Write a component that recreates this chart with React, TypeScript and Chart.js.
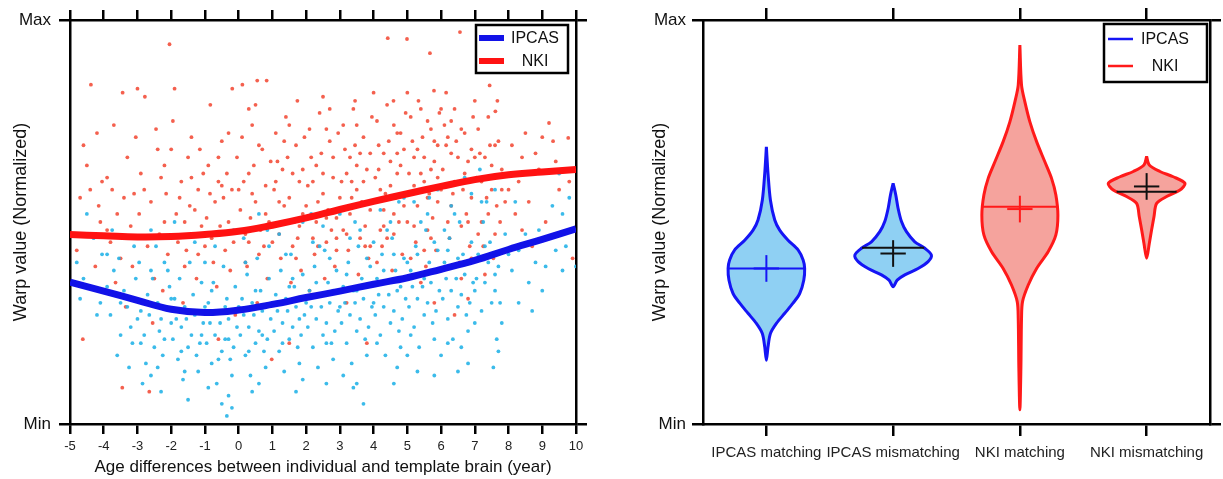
import React, { useEffect, useRef } from 'react';
import { Chart, registerables } from 'chart.js';
Chart.register(...registerables);

const FONT = "'Liberation Sans', Arial, Helvetica, sans-serif";

// ---------------- Left panel data ----------------
const AGE_TICKS = [-5, -4, -3, -2, -1, 0, 1, 2, 3, 4, 5, 6, 7, 8, 9, 10];
const Y_TICK_LABELS = ['Min', 'Max'];
const X_TITLE = 'Age differences between individual and template brain (year)';
const Y_TITLE = 'Warp value (Normalized)';
const GROUPS = ['IPCAS', 'NKI'];

const FIT_X = [-5, -4, -3, -2, -1, 0, 1, 2, 3, 4, 5, 6, 7, 8, 9, 10];
const IPCAS_FIT = [0.351, 0.329, 0.306, 0.284, 0.276, 0.282, 0.296, 0.313, 0.329, 0.346, 0.362, 0.383, 0.405, 0.432, 0.457, 0.483];
const NKI_FIT = [0.469, 0.466, 0.463, 0.464, 0.469, 0.477, 0.492, 0.51, 0.531, 0.551, 0.57, 0.588, 0.605, 0.617, 0.624, 0.63];

const NKI_POINTS: number[][] = [
  [-4.62,0.21],[-4.38,0.84],[-4.7,0.56],[-4.5,0.64],[-4.2,0.72],[-4.1,0.5],[-4.4,0.47],[-4.05,0.6],[-4.8,0.43],[-4.25,0.39],[-4.6,0.69],[-4.15,0.54],
  [-3.9,0.61],[-3.7,0.74],[-3.44,0.82],[-3.6,0.52],[-3.3,0.66],[-3.1,0.57],[-3.8,0.45],[-3.5,0.41],[-3.2,0.49],[-3.65,0.35],[-3.35,0.29],[-3.05,0.71],[-3.0,0.83],[-3.45,0.09],[-3.15,0.39],[-3.75,0.58],
  [-2.78,0.81],[-2.9,0.62],[-2.6,0.55],[-2.4,0.68],[-2.2,0.5],[-2.05,0.94],[-2.7,0.44],[-2.5,0.36],[-2.3,0.61],[-2.85,0.3],[-2.65,0.08],[-2.1,0.42],[-2.45,0.73],[-2.15,0.57],[-2.95,0.52],[-2.35,0.47],[-2.55,0.25],[-2.25,0.33],
  [-1.9,0.83],[-1.95,0.75],[-1.7,0.6],[-1.5,0.66],[-1.3,0.53],[-1.1,0.49],[-1.8,0.45],[-1.6,0.39],[-1.4,0.71],[-1.2,0.58],[-1.05,0.62],[-1.85,0.52],[-1.55,0.43],[-1.25,0.36],[-1.65,0.3],[-1.35,0.47],[-1.15,0.68],[-1.75,0.56],[-1.45,0.54],[-1.0,0.44],
  [-0.84,0.79],[-0.9,0.64],[-0.7,0.55],[-0.5,0.7],[-0.3,0.5],[-0.19,0.83],[-0.8,0.46],[-0.6,0.6],[-0.4,0.43],[-0.2,0.58],[-0.95,0.51],[-0.75,0.4],[-0.55,0.49],[-0.35,0.62],[-0.15,0.45],[-0.65,0.34],[-0.45,0.56],[-0.25,0.38],[-0.05,0.66],[-0.85,0.57],[-0.1,0.27],[-0.6,0.21],
  [0.11,0.84],[0.55,0.85],[0.83,0.85],[0.1,0.71],[0.3,0.62],[0.5,0.55],[0.7,0.68],[0.9,0.5],[0.2,0.47],[0.4,0.74],[0.6,0.42],[0.8,0.59],[0.05,0.53],[0.25,0.39],[0.45,0.64],[0.65,0.48],[0.85,0.36],[0.15,0.6],[0.35,0.51],[0.75,0.44],[0.95,0.65],[0.55,0.3],[0.98,0.16],[0.3,0.78],
  [1.74,0.8],[1.1,0.72],[1.3,0.63],[1.5,0.56],[1.7,0.69],[1.9,0.52],[1.2,0.47],[1.4,0.76],[1.6,0.44],[1.8,0.6],[1.05,0.58],[1.25,0.41],[1.45,0.66],[1.65,0.5],[1.85,0.38],[1.15,0.65],[1.35,0.54],[1.55,0.35],[1.75,0.46],[1.95,0.71],[1.5,0.2],[1.9,0.63],
  [2.1,0.73],[2.3,0.64],[2.5,0.57],[2.7,0.7],[2.9,0.51],[2.2,0.46],[2.4,0.77],[2.6,0.45],[2.8,0.61],[2.05,0.59],[2.25,0.42],[2.45,0.67],[2.65,0.53],[2.85,0.39],[2.15,0.66],[2.35,0.55],[2.55,0.36],[2.75,0.48],[2.95,0.72],[2.5,0.62],[2.3,0.5],[2.7,0.78],[2.1,0.33],[2.9,0.43],
  [3.45,0.8],[3.1,0.74],[3.3,0.66],[3.5,0.58],[3.7,0.71],[3.9,0.53],[3.2,0.47],[3.4,0.78],[3.6,0.46],[3.8,0.63],[3.05,0.6],[3.25,0.43],[3.45,0.69],[3.65,0.55],[3.85,0.41],[3.15,0.68],[3.35,0.56],[3.55,0.37],[3.75,0.49],[3.95,0.76],[3.5,0.64],[3.3,0.52],[3.7,0.6],[3.9,0.67],[3.2,0.3],[3.8,0.2],
  [4.42,0.955],[4.59,0.8],[4.1,0.75],[4.3,0.67],[4.5,0.59],[4.7,0.72],[4.9,0.54],[4.2,0.48],[4.4,0.79],[4.6,0.47],[4.8,0.64],[4.05,0.61],[4.25,0.44],[4.45,0.7],[4.65,0.56],[4.85,0.42],[4.15,0.69],[4.35,0.57],[4.55,0.38],[4.75,0.5],[4.95,0.77],[4.5,0.65],[4.3,0.53],[4.7,0.62],[4.9,0.68],[4.1,0.4],[4.6,0.74],[4.2,0.58],
  [4.99,0.953],[5.33,0.8],[5.67,0.918],[5.79,0.825],[5.1,0.76],[5.3,0.68],[5.5,0.6],[5.7,0.73],[5.9,0.55],[5.2,0.49],[5.4,0.78],[5.6,0.48],[5.8,0.65],[5.05,0.62],[5.25,0.45],[5.45,0.71],[5.65,0.57],[5.85,0.43],[5.15,0.7],[5.35,0.58],[5.55,0.39],[5.75,0.51],[5.95,0.77],[5.5,0.66],[5.3,0.54],[5.7,0.63],[5.9,0.69],[5.1,0.41],[5.6,0.75],[5.2,0.59],[5.4,0.35],[5.8,0.3],
  [6.56,0.97],[6.15,0.82],[6.1,0.74],[6.3,0.67],[6.5,0.6],[6.7,0.72],[6.9,0.56],[6.2,0.5],[6.4,0.78],[6.6,0.49],[6.8,0.65],[6.05,0.63],[6.25,0.46],[6.45,0.7],[6.65,0.58],[6.85,0.44],[6.15,0.69],[6.35,0.57],[6.55,0.4],[6.75,0.52],[6.95,0.76],[6.5,0.66],[6.3,0.54],[6.7,0.62],[6.9,0.68],[6.6,0.36],[6.4,0.27],[6.8,0.31],
  [7.44,0.838],[7.67,0.8],[7.61,0.774],[7.1,0.73],[7.3,0.66],[7.5,0.58],[7.7,0.7],[7.9,0.55],[7.2,0.5],[7.4,0.76],[7.6,0.47],[7.8,0.63],[7.05,0.61],[7.25,0.44],[7.45,0.69],[7.65,0.54],[7.15,0.67],[7.35,0.56],[7.55,0.41],[7.75,0.5],[7.3,0.37],[7.5,0.64],
  [9.2,0.745],[9.77,0.708],[9.32,0.7],[8.1,0.69],[8.3,0.6],[8.6,0.55],[8.9,0.63],[9.1,0.5],[8.4,0.48],[8.8,0.67],[9.5,0.58],[9.8,0.6],[8.2,0.52],[9.0,0.71],[9.6,0.47],[8.5,0.72],[9.9,0.41],[8.7,0.44],
  [-2.8,0.58],[-2.2,0.64],[-1.6,0.5],[-1.2,0.42],[-0.6,0.66],[-0.3,0.72],[0.0,0.58],[0.2,0.4],[0.4,0.57],[0.6,0.69],[0.8,0.52],[1.0,0.45],[1.2,0.55],[1.35,0.7],[1.6,0.62],[1.8,0.49],[2.0,0.54],[2.2,0.6],[2.35,0.44],[2.6,0.51],
  [2.8,0.66],[3.0,0.56],[3.1,0.48],[3.35,0.6],[3.6,0.67],[3.75,0.44],[4.0,0.55],[4.15,0.63],[4.4,0.46],[4.6,0.52],[4.8,0.72],[5.0,0.5],[5.2,0.66],[5.4,0.62],[5.6,0.56],[5.8,0.7],[6.0,0.58],[6.2,0.71],[6.4,0.6],[6.6,0.73],
  [6.8,0.5],[7.0,0.66],[7.2,0.6],[7.4,0.52],[7.6,0.69],[7.8,0.58],[0.5,0.79],[1.5,0.74],[2.5,0.81],[3.5,0.74],[4.0,0.82],[5.0,0.82],[6.0,0.78],[7.0,0.8],[3.2,0.62],[4.7,0.67],[5.9,0.61],[6.3,0.75],[2.6,0.73],[1.1,0.6],
  [-0.5,0.59],[-1.4,0.61],[-2.0,0.68],[-3.4,0.56],[-3.9,0.48],[-4.4,0.58],[0.3,0.45],[1.7,0.41],[2.9,0.46],[4.3,0.49],[5.7,0.46],[7.1,0.47],[8.0,0.58],[8.4,0.66],[9.4,0.65],[6.9,0.41],[5.5,0.43],[3.9,0.44],
];

const IPCAS_POINTS: number[][] = [
  [-4.8,0.4],[-4.6,0.36],[-4.3,0.46],[-4.1,0.3],[-4.5,0.52],[-4.2,0.27],[-4.7,0.31],[-4.05,0.42],
  [-3.9,0.34],[-3.7,0.38],[-3.5,0.22],[-3.3,0.29],[-3.1,0.44],[-3.8,0.27],[-3.6,0.17],[-3.4,0.33],[-3.2,0.24],[-3.05,0.36],[-3.75,0.48],[-3.25,0.14],[-3.55,0.41],[-3.15,0.2],
  [-2.9,0.28],[-2.7,0.32],[-2.5,0.19],[-2.3,0.26],[-2.1,0.38],[-2.8,0.22],[-2.6,0.12],[-2.4,0.3],[-2.2,0.21],[-2.05,0.34],[-2.95,0.4],[-2.75,0.15],[-2.55,0.36],[-2.35,0.23],[-2.15,0.29],[-2.85,0.1],[-2.45,0.44],[-2.25,0.17],[-2.65,0.27],[-2.0,0.25],[-2.6,0.48],
  [-1.9,0.31],[-1.7,0.24],[-1.5,0.19],[-1.3,0.27],[-1.1,0.35],[-1.8,0.16],[-1.6,0.29],[-1.4,0.22],[-1.2,0.13],[-1.05,0.25],[-1.95,0.21],[-1.75,0.36],[-1.55,0.26],[-1.35,0.32],[-1.15,0.2],[-1.85,0.26],[-1.45,0.4],[-1.25,0.17],[-1.65,0.11],[-1.0,0.29],[-1.5,0.06],[-1.3,0.45],[-1.9,0.5],
  [-0.9,0.3],[-0.7,0.22],[-0.5,0.18],[-0.3,0.26],[-0.1,0.34],[-0.8,0.15],[-0.6,0.28],[-0.4,0.21],[-0.2,0.12],[-0.05,0.24],[-0.95,0.2],[-0.75,0.35],[-0.55,0.25],[-0.35,0.31],[-0.15,0.19],[-0.85,0.25],[-0.45,0.39],[-0.25,0.16],[-0.65,0.1],[-0.35,0.02],[-0.5,0.05],[-0.3,0.07],[-0.7,0.44],[-0.15,0.48],[-0.4,0.29],
  [0.1,0.31],[0.3,0.24],[0.5,0.2],[0.7,0.28],[0.9,0.36],[0.2,0.17],[0.4,0.3],[0.6,0.23],[0.8,0.14],[0.95,0.26],[0.05,0.22],[0.25,0.37],[0.45,0.27],[0.65,0.33],[0.85,0.21],[0.15,0.27],[0.55,0.41],[0.75,0.18],[0.35,0.12],[0.15,0.46],[0.6,0.52],[0.9,0.44],[0.4,0.08],
  [1.1,0.32],[1.3,0.25],[1.5,0.21],[1.7,0.29],[1.9,0.37],[1.2,0.18],[1.4,0.31],[1.6,0.24],[1.8,0.15],[1.95,0.27],[1.05,0.23],[1.25,0.38],[1.45,0.28],[1.65,0.34],[1.85,0.22],[1.15,0.28],[1.55,0.42],[1.75,0.19],[1.35,0.13],[1.7,0.08],[1.2,0.47],[1.9,0.5],[1.5,0.34],
  [2.1,0.33],[2.3,0.26],[2.5,0.22],[2.7,0.3],[2.9,0.38],[2.2,0.19],[2.4,0.32],[2.6,0.25],[2.8,0.16],[2.95,0.28],[2.05,0.24],[2.25,0.39],[2.45,0.29],[2.65,0.35],[2.85,0.23],[2.15,0.29],[2.55,0.43],[2.75,0.2],[2.35,0.14],[2.5,0.49],[2.9,0.53],[2.2,0.45],[2.7,0.41],
  [3.1,0.34],[3.3,0.27],[3.5,0.23],[3.7,0.31],[3.9,0.39],[3.2,0.2],[3.4,0.33],[3.6,0.26],[3.8,0.17],[3.95,0.29],[3.05,0.25],[3.25,0.4],[3.45,0.3],[3.65,0.36],[3.85,0.24],[3.15,0.3],[3.55,0.44],[3.75,0.21],[3.35,0.15],[3.5,0.1],[3.4,0.09],[3.7,0.05],[3.6,0.48],[3.0,0.52],[3.85,0.55],
  [4.1,0.36],[4.3,0.29],[4.5,0.25],[4.7,0.33],[4.9,0.41],[4.2,0.22],[4.4,0.35],[4.6,0.28],[4.8,0.19],[4.95,0.31],[4.05,0.27],[4.25,0.42],[4.45,0.32],[4.65,0.38],[4.85,0.26],[4.15,0.32],[4.55,0.46],[4.75,0.23],[4.35,0.17],[4.5,0.5],[4.9,0.56],[4.2,0.53],[4.7,0.14],[4.0,0.45],
  [5.1,0.38],[5.3,0.31],[5.5,0.27],[5.7,0.35],[5.9,0.43],[5.2,0.24],[5.4,0.37],[5.6,0.3],[5.8,0.21],[5.95,0.33],[5.05,0.29],[5.25,0.44],[5.45,0.34],[5.65,0.4],[5.85,0.28],[5.15,0.34],[5.55,0.48],[5.75,0.25],[5.35,0.19],[5.0,0.17],[5.3,0.13],[5.6,0.52],[5.9,0.58],[5.2,0.55],[5.8,0.12],
  [6.1,0.4],[6.3,0.33],[6.5,0.29],[6.7,0.37],[6.9,0.45],[6.2,0.26],[6.4,0.39],[6.6,0.32],[6.8,0.23],[6.95,0.35],[6.05,0.31],[6.25,0.46],[6.45,0.36],[6.65,0.42],[6.85,0.3],[6.15,0.36],[6.55,0.5],[6.75,0.27],[6.35,0.21],[6.6,0.19],[6.8,0.15],[6.5,0.13],[6.9,0.57],[6.3,0.54],[6.7,0.61],[6.0,0.17],
  [7.1,0.42],[7.3,0.35],[7.5,0.3],[7.7,0.39],[7.9,0.47],[7.2,0.28],[7.4,0.4],[7.6,0.33],[7.8,0.25],[7.05,0.36],[7.25,0.5],[7.45,0.45],[7.65,0.21],[7.55,0.14],[7.7,0.18],[7.35,0.55],[7.6,0.58],[7.15,0.63],[7.75,0.3],
  [8.1,0.38],[8.3,0.43],[8.3,0.3],[8.6,0.35],[8.9,0.48],[9.0,0.33],[9.1,0.39],[9.3,0.54],[9.4,0.43],[9.6,0.52],[9.8,0.56],[9.9,0.48],[10.0,0.39],[8.7,0.28],[9.5,0.62],[8.2,0.55],[9.7,0.44],[8.5,0.47],
  [-2.9,0.2],[-2.4,0.14],[-2.0,0.31],[-1.7,0.18],[-1.4,0.28],[-1.1,0.22],[-0.8,0.33],[-0.6,0.16],[-0.3,0.21],[0.0,0.29],[0.3,0.18],[0.5,0.33],[0.7,0.22],[1.0,0.3],[1.3,0.2],[1.6,0.36],[1.8,0.26],[2.0,0.3],[2.3,0.35],[2.6,0.2],
  [2.8,0.33],[3.0,0.29],[3.2,0.37],[3.5,0.33],[3.8,0.41],[4.0,0.3],[4.3,0.38],[4.6,0.42],[4.8,0.34],[5.0,0.4],[5.3,0.42],[5.5,0.36],[5.8,0.45],[6.0,0.38],[6.2,0.43],[6.5,0.41],[6.8,0.4],[7.0,0.33],[7.3,0.44],[7.6,0.37],
  [-3.5,0.3],[-3.0,0.26],[-2.2,0.4],[-1.0,0.4],[0.2,0.4],[1.4,0.42],[2.4,0.44],[3.3,0.46],[4.4,0.48],[5.4,0.5],[6.4,0.52],[7.2,0.55],[-1.6,0.13],[-0.9,0.09],[0.6,0.1],[1.9,0.11],[3.1,0.12],[4.1,0.2],[5.1,0.22],[6.2,0.2],
  [-2.3,0.08],[-0.2,0.04],[2.6,0.1],[4.6,0.1],[7.0,0.25],[8.0,0.42],[8.8,0.4],[9.6,0.38],[9.2,0.46],[-4.4,0.34],[-3.9,0.42],[-2.6,0.38],[0.85,0.48],[2.15,0.52],[3.45,0.5],[4.75,0.55],[5.65,0.56],[6.1,0.48],
];

// ---------------- Right panel data ----------------
const VIOLIN_LABELS = ['IPCAS matching', 'IPCAS mismatching', 'NKI matching', 'NKI mismatching'];
const VIOLIN_POS = [1, 2, 3, 4];
const VIOLIN_GROUP = [0, 0, 1, 1];
// density outline: value (top to bottom) and half width (category units)
const V1_Y = [0.686, 0.62, 0.554, 0.505, 0.48, 0.455, 0.431, 0.406, 0.385, 0.356, 0.323, 0.299, 0.274, 0.249, 0.224, 0.191, 0.158];
const V1_W = [0, 0.013, 0.032, 0.066, 0.105, 0.171, 0.25, 0.29, 0.302, 0.295, 0.263, 0.21, 0.145, 0.079, 0.032, 0.013, 0];
const V2_Y = [0.596, 0.567, 0.534, 0.501, 0.476, 0.451, 0.435, 0.418, 0.402, 0.385, 0.369, 0.356, 0.34];
const V2_W = [0, 0.021, 0.039, 0.066, 0.105, 0.171, 0.25, 0.302, 0.276, 0.197, 0.092, 0.032, 0];
const V3_Y = [0.938, 0.839, 0.798, 0.748, 0.699, 0.649, 0.608, 0.567, 0.517, 0.468, 0.427, 0.385, 0.344, 0.303, 0.262, 0.138, 0.035];
const V3_W = [0, 0.013, 0.039, 0.079, 0.132, 0.197, 0.25, 0.284, 0.3, 0.284, 0.224, 0.132, 0.066, 0.021, 0.013, 0.008, 0];
const V4_Y = [0.662, 0.641, 0.625, 0.612, 0.596, 0.579, 0.563, 0.546, 0.513, 0.48, 0.447, 0.41];
const V4_W = [0, 0.021, 0.105, 0.21, 0.302, 0.263, 0.158, 0.079, 0.058, 0.039, 0.021, 0];
const VIOLIN_MEDIANS = [0.385, 0.436, 0.538, 0.575];
const VIOLIN_MEANS = [0.385, 0.422, 0.532, 0.588];

// ---------------- styles ----------------
const SCATTER_COLORS = ['rgba(38,180,232,0.9)', 'rgba(242,74,54,0.88)'];
const FIT_COLORS = ['#1212e8', '#ff1212'];
const V_STROKE = ['#1515f5', '#ff1a1a'];
const V_FILL = ['#8fd0f3', '#f5a39d'];
const V_MARK = ['#1515f5', '#111111', '#ff1a1a', '#111111'];
const CROSS_HALF_W = 0.1;
const CROSS_HALF_H = 0.033;

const boxLegend = {
  id: 'boxLegend',
  afterDraw(chart: any, _args: any, o: any) {
    if (!o || !o.items) return;
    const { ctx, chartArea } = chart;
    const x = chartArea.right - o.right - o.width;
    const y = chartArea.top + o.top;
    ctx.save();
    ctx.fillStyle = '#ffffff';
    ctx.fillRect(x, y, o.width, o.height);
    ctx.lineWidth = 2.5;
    ctx.strokeStyle = '#000';
    ctx.strokeRect(x, y, o.width, o.height);
    o.items.forEach((it: any, i: number) => {
      const cy = y + o.firstRow + i * o.rowGap;
      ctx.strokeStyle = it.color;
      ctx.lineWidth = o.lineWidth;
      ctx.lineCap = 'butt';
      ctx.beginPath();
      ctx.moveTo(x + o.lineX0, cy);
      ctx.lineTo(x + o.lineX1, cy);
      ctx.stroke();
      ctx.fillStyle = '#111';
      ctx.font = `16px ${FONT}`;
      ctx.textAlign = 'center';
      ctx.textBaseline = 'middle';
      ctx.fillText(it.label, x + o.textCx, cy + 1);
    });
    ctx.restore();
  },
};

const axisGrid = (len: number) => ({
  display: true,
  drawOnChartArea: false,
  drawTicks: true,
  tickLength: len,
  color: '#000',
  lineWidth: 2.5,
});
const axisBorder = { display: true, color: '#000', width: 2.5 };

function yAxes(width: number, rightWidth: number, titlePad: number, labelPad: number) {
  const yTicks = (s: any) => { s.ticks = [{ value: 0 }, { value: 1 }]; };
  return {
    y: {
      type: 'linear', position: 'left', min: 0, max: 1, z: 1,
      afterBuildTicks: yTicks,
      ticks: {
        callback: (v: number) => (v === 0 ? Y_TICK_LABELS[0] : Y_TICK_LABELS[1]),
        font: { size: 17, family: FONT }, color: '#111', padding: labelPad,
      },
      grid: axisGrid(11), border: axisBorder,
      title: { display: true, text: Y_TITLE, font: { size: 18, family: FONT }, color: '#111', padding: { top: titlePad, bottom: 0 } },
      afterFit: (s: any) => { s.width = width; },
    },
    yRight: {
      type: 'linear', position: 'right', min: 0, max: 1, z: 1,
      afterBuildTicks: yTicks,
      ticks: { display: false },
      grid: axisGrid(11), border: axisBorder,
      afterFit: (s: any) => { s.width = rightWidth; },
    },
  };
}

function widthAt(ys: number[], ws: number[], y: number) {
  for (let i = 0; i < ys.length - 1; i++) {
    if (y <= ys[i] && y >= ys[i + 1]) {
      const t = (ys[i] - y) / (ys[i] - ys[i + 1]);
      return ws[i] + t * (ws[i + 1] - ws[i]);
    }
  }
  return 0;
}

function LeftChart() {
  const ref = useRef<HTMLCanvasElement>(null);
  useEffect(() => {
    if (!ref.current) return;
    const xTicks = (s: any) => { s.ticks = AGE_TICKS.map((v) => ({ value: v })); };
    const chart = new Chart(ref.current, {
      type: 'scatter',
      data: {
        datasets: [
          {
            label: GROUPS[0], data: FIT_X.map((x, i) => ({ x, y: IPCAS_FIT[i] })),
            showLine: true, borderColor: FIT_COLORS[0], borderWidth: 7, pointRadius: 0, tension: 0.4, clip: 0, order: 0,
            xAxisID: 'x', yAxisID: 'y',
          },
          {
            label: GROUPS[1], data: FIT_X.map((x, i) => ({ x, y: NKI_FIT[i] })),
            showLine: true, borderColor: FIT_COLORS[1], borderWidth: 7, pointRadius: 0, tension: 0.4, clip: 0, order: 1,
            xAxisID: 'x', yAxisID: 'y',
          },
          {
            label: GROUPS[0] + ' subjects', data: IPCAS_POINTS.map(([x, y]) => ({ x, y })),
            backgroundColor: SCATTER_COLORS[0], borderWidth: 0, pointRadius: 1.9, order: 2,
            xAxisID: 'x', yAxisID: 'y',
          },
          {
            label: GROUPS[1] + ' subjects', data: NKI_POINTS.map(([x, y]) => ({ x, y })),
            backgroundColor: SCATTER_COLORS[1], borderWidth: 0, pointRadius: 1.9, order: 3,
            xAxisID: 'x', yAxisID: 'y',
          },
        ],
      },
      options: {
        animation: false, responsive: false,
        layout: { padding: 0 },
        events: [],
        plugins: {
          legend: { display: false }, tooltip: { enabled: false },
          boxLegend: {
            items: GROUPS.map((g, i) => ({ label: g, color: FIT_COLORS[i] })),
            right: 8, top: 5, width: 92, height: 48, firstRow: 13, rowGap: 23,
            lineX0: 3, lineX1: 28, lineWidth: 6, textCx: 59,
          },
        } as any,
        scales: {
          x: {
            type: 'linear', position: 'bottom', min: -5, max: 10, z: 1,
            afterBuildTicks: xTicks,
            ticks: { font: { size: 13, family: FONT }, color: '#222', padding: 5, maxRotation: 0, autoSkip: false },
            grid: axisGrid(10), border: axisBorder,
            title: { display: true, text: X_TITLE, font: { size: 17, family: FONT }, color: '#111', padding: { top: 0, bottom: 1 } },
            afterFit: (s: any) => { s.height = 55; },
          },
          xTop: {
            type: 'linear', position: 'top', min: -5, max: 10, z: 1,
            afterBuildTicks: xTicks,
            ticks: { display: false },
            grid: axisGrid(10), border: axisBorder,
            afterFit: (s: any) => { s.height = 20; },
          },
          ...yAxes(70, 24, 10, 8),
        } as any,
      },
      plugins: [boxLegend],
    } as any);
    return () => chart.destroy();
  }, []);
  return <canvas ref={ref} width={600} height={479} style={{ display: 'block' }} />;
}

function RightChart() {
  const ref = useRef<HTMLCanvasElement>(null);
  useEffect(() => {
    if (!ref.current) return;
    const profiles = [[V1_Y, V1_W], [V2_Y, V2_W], [V3_Y, V3_W], [V4_Y, V4_W]];
    const datasets: any[] = [];
    profiles.forEach(([ys, ws], i) => {
      const c = VIOLIN_POS[i];
      const g = VIOLIN_GROUP[i];
      const rightSide = ys.map((y, k) => ({ x: c + ws[k], y }));
      const leftSide = ys.map((y, k) => ({ x: c - ws[k], y })).reverse().slice(1);
      datasets.push({
        label: VIOLIN_LABELS[i], data: [...rightSide, ...leftSide],
        showLine: true, fill: 'shape', backgroundColor: V_FILL[g], borderColor: V_STROKE[g],
        borderWidth: 3, pointRadius: 0, tension: 0.3, order: 10,
        xAxisID: 'x', yAxisID: 'y',
      });
      const med = VIOLIN_MEDIANS[i];
      const mw = widthAt(ys, ws, med);
      datasets.push({
        label: VIOLIN_LABELS[i] + ' median', data: [{ x: c - mw, y: med }, { x: c + mw, y: med }],
        showLine: true, borderColor: V_MARK[i], borderWidth: 2, pointRadius: 0, order: 5,
        xAxisID: 'x', yAxisID: 'y',
      });
      const mean = VIOLIN_MEANS[i];
      datasets.push({
        label: VIOLIN_LABELS[i] + ' mean h', data: [{ x: c - CROSS_HALF_W, y: mean }, { x: c + CROSS_HALF_W, y: mean }],
        showLine: true, borderColor: V_MARK[i], borderWidth: 2, pointRadius: 0, order: 4,
        xAxisID: 'x', yAxisID: 'y',
      });
      datasets.push({
        label: VIOLIN_LABELS[i] + ' mean v', data: [{ x: c, y: mean - CROSS_HALF_H }, { x: c, y: mean + CROSS_HALF_H }],
        showLine: true, borderColor: V_MARK[i], borderWidth: 2, pointRadius: 0, order: 4,
        xAxisID: 'x', yAxisID: 'y',
      });
    });
    const catTicks = (s: any) => { s.ticks = VIOLIN_POS.map((v) => ({ value: v })); };
    const chart = new Chart(ref.current, {
      type: 'scatter',
      data: { datasets },
      options: {
        animation: false, responsive: false,
        layout: { padding: 0 },
        events: [],
        plugins: {
          legend: { display: false }, tooltip: { enabled: false },
          boxLegend: {
            items: GROUPS.map((g, i) => ({ label: g, color: V_STROKE[i] })),
            right: 3, top: 4, width: 103, height: 58, firstRow: 15, rowGap: 27,
            lineX0: 4, lineX1: 29, lineWidth: 2.5, textCx: 61,
          },
        } as any,
        scales: {
          x: {
            type: 'linear', position: 'bottom', min: 0.5, max: 4.5, z: 1,
            afterBuildTicks: catTicks,
            ticks: {
              callback: (_v: number, idx: number) => VIOLIN_LABELS[idx],
              font: { size: 15, family: FONT }, color: '#222', padding: 8, maxRotation: 0, autoSkip: false,
            },
            grid: axisGrid(12), border: axisBorder,
            afterFit: (s: any) => { s.height = 55; },
          },
          xTop: {
            type: 'linear', position: 'top', min: 0.5, max: 4.5, z: 1,
            afterBuildTicks: catTicks,
            ticks: { display: false },
            grid: axisGrid(12), border: axisBorder,
            afterFit: (s: any) => { s.height = 20; },
          },
          ...yAxes(103, 13, 49, 6),
        } as any,
      },
      plugins: [boxLegend],
    } as any);
    return () => chart.destroy();
  }, []);
  return <canvas ref={ref} width={623} height={479} style={{ display: 'block' }} />;
}

export default function App() {
  return (
    <div style={{ position: 'fixed', left: 0, top: 0, width: 1223, height: 479, background: '#fff' }}>
      <div style={{ position: 'absolute', left: 0, top: 0, width: 600, height: 479 }}>
        <LeftChart />
      </div>
      <div style={{ position: 'absolute', left: 600, top: 0, width: 623, height: 479 }}>
        <RightChart />
      </div>
    </div>
  );
}
